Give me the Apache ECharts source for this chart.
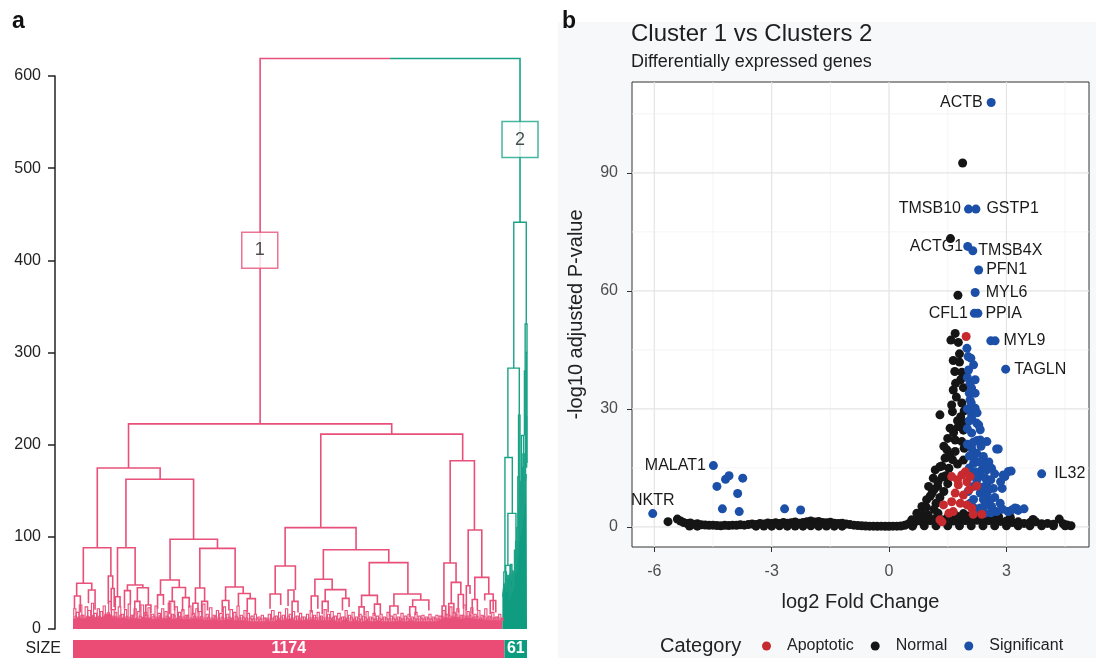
<!DOCTYPE html>
<html>
<head>
<meta charset="utf-8">
<title>Cluster dendrogram + volcano</title>
<script src="https://cdn.jsdelivr.net/npm/echarts@6/dist/echarts.min.js"></script>
<style>
  html, body { margin: 0; padding: 0; background: #fff; }
  #main { width: 1096px; height: 658px; }
</style>
</head>
<body>
<div id="main"></div>
<script>
var pink = '#e8507a', teal = '#1aa287';             // dendrogram line colours
var pinkBar = '#ea4c76', tealBar = '#0b9b7f';       // size bar colours
var redPt = '#c62a2f', blackPt = '#151515', bluePt = '#1b4fa8';

/* ---------- panel a : dendrogram (x = leaf index, y = height) ---------- */
var clusterSizes = [1174, 61];
var clusterBoxes = [[508, 411, '1'], [1216, 531, '2']];   // leaf, height, label

// [left x, right x, height, left child height, right child height]
var rootMerge = [509, 1216, 619, 222.6, 441.3];
var pinkMerges = [
  [151, 867, 222.6, 174.7, 211.4],
  [66, 237, 174.7, 88.2, 162.4],
  [28, 103, 88.2, 49.6, 57.5],
  [10, 51, 49.6, 35.8, 42.3],
  [4, 20, 35.8, 22, 18],
  [42, 60, 42.3, 28, 21],
  [96, 108, 57.5, 27, 44],
  [104, 112, 44, 20, 24],
  [144, 328, 162.4, 88.2, 97.3],
  [121, 169, 88.2, 35, 47.7],
  [115, 128, 35, 20, 24],
  [148, 190, 47.7, 41.6, 44.8],
  [140, 156, 41.6, 22, 27],
  [175, 205, 44.8, 30, 26],
  [168, 182, 30, 15, 19],
  [198, 212, 26, 14, 17],
  [264, 393, 97.3, 53.2, 87.5],
  [238, 289, 53.2, 37, 45],
  [230, 246, 37, 22, 26],
  [270, 306, 45, 30, 34],
  [262, 276, 30, 16, 20],
  [298, 316, 34, 19, 23],
  [345, 441, 87.5, 44.5, 45.6],
  [333, 358, 44.5, 28, 30],
  [326, 340, 28, 15, 18],
  [350, 366, 30, 16, 20],
  [415, 463, 45.6, 31, 38.5],
  [406, 424, 31, 18, 20],
  [450, 482, 38.5, 25, 33],
  [474, 496, 33, 18, 16],
  [674, 1060, 211.4, 110, 182.6],
  [577, 770, 110, 68.3, 86],
  [550, 605, 68.3, 38, 42.3],
  [536, 565, 38, 22, 26],
  [585, 601, 42.3, 25, 30],
  [596, 612, 30, 16, 18],
  [681, 859, 86, 53.9, 72],
  [658, 705, 53.9, 35.8, 42.7],
  [648, 666, 35.8, 18, 22],
  [686, 742, 42.7, 30, 33.2],
  [678, 694, 30, 16, 18],
  [733, 751, 33.2, 20, 24],
  [806, 911, 72, 36.5, 38],
  [785, 828, 36.5, 24, 27],
  [778, 792, 24, 13, 15],
  [820, 836, 27, 14, 16],
  [873, 946, 38, 25, 31.4],
  [862, 884, 25, 14, 16],
  [924, 968, 31.4, 24.2, 20],
  [916, 932, 24.2, 13, 15],
  [1026, 1092, 182.6, 71.6, 107.4],
  [1009, 1042, 71.6, 25, 50.6],
  [1004, 1014, 25, 12, 14],
  [1029, 1055, 50.6, 27.7, 37.4],
  [1022, 1036, 27.7, 14, 16],
  [1048, 1062, 37.4, 18, 22],
  [1075, 1112, 107.4, 47, 56],
  [1070, 1080, 47, 20, 38],
  [1093, 1131, 56, 32, 38],
  [1086, 1100, 32, 16, 20],
  [1120, 1143, 38, 31, 20],
  [1135, 1150, 31, 16, 18]
];
var tealMerges = [
  [1199, 1233, 441.3, 283, 331],
  [1183, 1214, 283, 186, 232],
  [1175, 1195, 186, 62, 125.5],
  [1172, 1179, 62, 35, 40],
  [1183, 1205, 125.5, 69, 85.6],
  [1177, 1189, 69, 45, 40],
  [1201, 1208, 85.6, 55, 62],
  [1186, 1192, 45, 30, 35],
  [1196, 1200, 60, 40, 45],
  [1212, 1216, 232, 165, 150],
  [1210, 1214, 165, 110, 95],
  [1215, 1219, 150, 120, 100],
  [1230, 1235, 331, 280, 300],
  [1228, 1232, 280, 210, 190],
  [1233, 1235, 300, 220, 180],
  [1220, 1226, 210, 150, 160],
  [1224, 1229, 190, 140, 155],
  [1218, 1222, 160, 120, 110],
  [1204, 1207, 95, 60, 70],
  [1207, 1211, 110, 75, 80],
  [1213, 1217, 130, 95, 105],
  [1221, 1224, 175, 130, 140],
  [1226, 1230, 165, 120, 135],
  [1231, 1234, 230, 160, 175],
  [1180, 1184, 58, 40, 45],
  [1190, 1194, 70, 45, 52]
];
// small merges just above the dense base: [left x, right x, height]
var pinkTwigs = [
  [2,8,22],[9,16,18],[17,24,26],[25,30,15],[33,40,24],[40,48,20],[50,56,28],[57,64,17],[66,72,22],[74,80,19],
  [82,88,25],[89,95,16],[97,104,30],[105,112,21],[114,119,18],[123,130,24],[131,138,16],[140,146,21],[150,156,27],[158,164,15],
  [166,172,22],[176,182,19],[185,192,26],[195,201,18],[204,210,23],[213,220,16],[223,229,25],[231,238,17],[241,247,22],[250,256,19],
  [259,266,28],[268,274,16],[277,284,24],[287,293,18],[296,302,21],[305,312,15],[315,321,25],[324,330,17],[334,340,22],[343,350,19],
  [353,359,27],[362,368,16],[371,378,23],[381,387,15],[390,396,20],[399,406,17],[409,415,24],[418,424,16],[427,434,21],[437,443,18],
  [446,452,25],[455,461,15],[465,471,20],[474,480,17],[484,490,14],[493,499,16],[503,509,13],[512,518,15],[522,528,12],[531,537,16],
  [540,547,20],[550,556,14],[559,565,18],[569,575,15],[578,584,22],[588,594,16],[597,603,19],[607,613,14],[616,622,17],[626,632,13],
  [635,641,16],[645,651,20],[654,660,15],[664,670,18],[673,679,14],[683,689,21],[692,698,16],[701,708,19],[711,717,14],[720,727,17],
  [730,736,13],[740,746,20],[749,755,15],[759,765,18],[768,774,13],[778,784,16],[787,793,14],[797,803,19],[806,812,13],[816,822,17],
  [825,831,14],[835,841,16],[844,850,13],[854,860,18],[863,869,14],[873,879,16],[882,888,13],[892,898,17],[901,907,14],[911,917,16],
  [920,926,13],[930,936,18],[939,945,14],[949,955,15],[958,964,13],[968,974,16],[977,983,13],[987,993,15],[996,1002,14],[1006,1012,20],
  [1015,1021,16],[1025,1031,24],[1034,1040,18],[1044,1050,22],[1053,1059,15],[1063,1069,26],[1072,1078,19],[1082,1088,23],[1091,1097,16],[1101,1107,20],
  [1110,1116,15],[1120,1126,22],[1129,1135,14],[1139,1145,18],[1148,1154,13],[1158,1164,16],[1166,1170,12]
];
// a lower, denser row of tiny merges
var pinkTinyTwigs = [
  [5,10,14],[13,18,13],[21,27,15],[29,35,12],[37,43,14],[45,51,13],[53,58,15],[61,67,13],[69,75,14],[77,83,12],
  [86,91,16],[93,99,18],[101,106,15],[109,115,14],[118,124,13],[127,133,15],[135,141,12],[144,149,14],[153,159,13],[162,168,15],
  [171,177,12],[180,186,14],[189,195,13],[198,204,15],[207,213,12],[217,223,14],[226,232,13],[235,241,15],[244,250,12],[253,259,14],
  [262,268,13],[272,278,15],[281,287,12],[290,296,14],[299,305,13],[309,315,15],[318,324,12],[328,334,14],[337,343,13],[347,353,14],
  [356,362,12],[366,372,13],[375,381,12],[385,391,14],[394,400,12],[403,409,13],[413,419,12],[422,428,13],[431,437,12],[441,447,14],
  [450,456,12],[460,466,13],[469,475,12],[479,485,12],[488,494,11],[498,504,12],[507,513,11],[517,523,12],[526,532,11],[536,542,12],
  [545,551,13],[555,561,12],[564,570,13],[574,580,12],[583,589,14],[593,599,12],[602,608,13],[612,618,12],[621,627,13],[631,637,11],
  [640,646,12],[650,656,13],[659,665,12],[669,675,13],[678,684,12],[688,694,13],[697,703,12],[706,712,13],[716,722,11],[725,731,12],
  [735,741,13],[744,750,12],[754,760,13],[763,769,11],[773,779,12],[782,788,11],[792,798,13],[801,807,11],[811,817,12],[820,826,11],
  [830,836,12],[839,845,11],[849,855,12],[858,864,11],[868,874,12],[877,883,11],[887,893,12],[896,902,11],[906,912,12],[915,921,11],
  [925,931,12],[934,940,11],[944,950,12],[953,959,11],[963,969,12],[972,978,11],[982,988,12],[991,997,11],[1001,1007,14],[1011,1017,13],
  [1020,1026,15],[1030,1036,14],[1039,1045,16],[1049,1055,13],[1058,1064,15],[1068,1074,14],[1077,1083,15],[1087,1093,13],[1096,1102,14],[1106,1112,12],
  [1115,1121,14],[1125,1131,12],[1134,1140,13],[1144,1150,12],[1153,1159,13],[1162,1167,11]
];
// top of the dense base of leaves: [leaf, height]
var pinkGrass = [
  [0,10],[15,12],[30,10],[45,13],[60,11],[75,12],[90,14],[100,16],[110,12],[125,11],[140,12],[155,10],[170,11],[185,10],
  [200,12],[215,10],[230,11],[245,10],[260,12],[275,10],[290,11],[305,10],[320,10],[335,11],[350,10],[365,9],[380,10],
  [395,9],[410,9],[425,10],[440,9],[455,9],[470,9],[485,8],[500,8],[515,8],[530,9],[545,8],[560,10],[575,9],[590,11],
  [605,9],[620,9],[635,9],[650,10],[665,9],[680,9],[695,9],[710,9],[725,8],[740,10],[755,8],[770,9],[785,8],[800,9],
  [815,8],[830,9],[845,8],[860,8],[875,8],[890,9],[905,8],[920,9],[935,8],[950,8],[965,8],[980,8],[995,9],[1010,12],
  [1025,11],[1040,13],[1055,10],[1070,12],[1085,11],[1100,10],[1115,10],[1130,9],[1145,9],[1160,9],[1168,8]
];
var tealGrass = [
  [1168,35],[1172,50],[1176,45],[1180,58],[1184,52],[1188,60],[1192,56],[1196,64],[1200,60],[1204,68],[1207,75],[1210,90],
  [1213,120],[1216,148],[1219,135],[1222,158],[1225,140],[1228,150],[1231,162],[1234,168],[1235,168]
];

/* ---------- panel b : volcano plot ---------- */
var xMajor = [-6, -3, 0, 3], xMinor = [-4.5, -1.5, 1.5, 4.5];
var yMajor = [0, 30, 60, 90], yMinor = [15, 45, 75, 105];

// [name, log2FC, -log10 padj, label side, label distance]
var geneLabels = [
  ['ACTB', 2.61, 107.9, 'left', 4],
  ['TMSB10', 2.03, 80.8, 'left', 3],
  ['GSTP1', 2.22, 80.8, 'right', 6],
  ['ACTG1', 2.01, 71.3, 'left', 0],
  ['TMSB4X', 2.14, 70.2, 'right', 1],
  ['PFN1', 2.29, 65.3, 'right', 3],
  ['MYL6', 2.20, 59.6, 'right', 6],
  ['CFL1', 2.18, 54.3, 'left', 2],
  ['PPIA', 2.27, 54.3, 'right', 3],
  ['MYL9', 2.71, 47.3, 'right', 4],
  ['TAGLN', 2.98, 40.1, 'right', 4],
  ['IL32', 3.90, 13.5, 'right', 8],
  ['MALAT1', -4.49, 15.6, 'left', 3],
  ['NKTR', -6.04, 3.4, 'top', 0]
];
var significantPts = [
  [2.60,47.3],
  [-4.40,10.3],[-4.18,12.1],[-4.09,13.0],[-3.74,12.4],[-3.87,8.5],[-4.26,4.6],[-3.83,3.9],[-2.67,4.6],[-2.26,4.3],
  [1.99,45.4],[2.09,42.9],[2.16,41.2],[2.03,39.9],[2.11,35.3],[2.20,34.0],[2.07,32.3],[2.20,30.2],[2.11,28.5],[2.24,26.4],
  [2.33,24.7],[2.50,21.7],[2.75,19.8],[2.33,22.1],[2.11,23.9],[2.24,18.7],[2.41,17.9],[2.16,16.2],[2.37,14.5],[2.62,14.9],
  [2.92,13.2],[3.05,14.1],[2.24,11.9],[2.50,11.1],[2.67,9.8],[2.33,8.6],[2.58,6.9],[2.84,6.0],[2.33,4.8],[2.75,3.9],
  [3.05,3.9],[3.22,4.8],[2.07,6.0],[2.16,10.3],[2.07,36.5],[2.20,37.4],[2.11,20.0],[2.02,43.3],[2.16,29.8],[2.11,27.6],
  [2.29,25.9],[2.16,17.9],[2.50,14.5],[2.29,10.3],[2.50,8.6],[2.41,7.0],[2.62,5.2],[2.29,4.3],[2.16,7.0],[2.02,9.0],
  [2.96,12.8],[3.12,14.2],[2.79,19.8],[2.89,9.8],[3.26,4.7],[3.04,3.9],[2.05,15.0],[2.10,13.0],[2.30,13.0],[2.45,12.5],
  [2.60,12.0],[2.15,5.0],[2.45,5.5],[2.60,3.6],[2.90,4.5],[2.35,20.5],[2.25,22.0],[2.40,16.0],[2.55,16.5],[2.70,13.5],
  [2.05,18.0],[2.00,21.0],[2.00,25.0],[2.05,27.0],[2.00,30.0],[2.05,34.0],[2.00,38.0],[2.10,31.5],[2.85,11.5],[3.30,4.2],
  [3.45,4.6],[3.15,4.4],[2.40,10.0],[2.55,9.5],[2.70,7.5],[2.45,3.5],[2.20,14.0],[2.30,16.5],[2.15,21.5],[2.25,29.0]
];
var apoptoticPts = [
  [1.97,48.4],[1.60,12.8],[1.86,13.2],[2.07,12.8],[1.77,10.7],[1.99,11.5],[2.24,10.4],[1.69,8.6],[1.90,8.1],[1.82,6.0],
  [1.60,6.4],[1.39,5.6],[1.99,5.6],[2.11,4.8],[1.64,3.9],[1.53,3.5],[2.15,3.2],[2.37,3.2],[1.30,1.8],[1.35,1.3],
  [1.95,14.0],[2.05,9.5],[1.75,12.0]
];
var normalPts = [
  // left tail and flat band
  [-5.65,1.35],[-5.41,2.0],[-5.33,1.5],[-5.25,1.1],[-5.17,0.9],[-5.08,1.0],[-5.0,0.7],[-4.9,0.8],[-4.8,0.55],[-4.7,0.5],
  [-4.6,0.4],[-4.5,0.45],[-4.4,0.35],[-4.3,0.3],[-4.2,0.4],[-4.1,0.35],[-4.0,0.45],[-3.9,0.4],[-3.8,0.55],[-3.7,0.45],
  [-3.6,0.6],[-3.5,0.75],[-3.4,0.65],[-3.3,0.9],[-3.2,0.75],[-3.1,1.0],[-3.0,0.85],[-2.9,1.05],[-2.8,0.9],[-2.7,1.15],
  [-2.6,0.95],[-2.5,1.05],[-2.4,1.25],[-2.3,0.95],[-2.2,1.15],[-2.1,1.35],[-2.0,1.5],[-1.9,1.25],[-1.8,1.4],[-1.7,1.15],
  [-1.6,1.05],[-1.5,1.2],[-1.4,0.95],[-1.3,0.85],[-1.2,0.95],[-1.1,0.75],[-1.0,0.6],[-0.9,0.45],[-0.8,0.35],[-0.7,0.3],
  [-0.6,0.25],[-0.5,0.2],[-0.4,0.2],[-0.3,0.15],[-0.2,0.2],[-0.1,0.15],[0.0,0.15],[0.1,0.2],[0.2,0.2],[0.3,0.25],[0.4,0.4],
  [-5.1,0.25],[-4.9,0.2],[-3.4,0.2],[-3.2,0.25],[-3.0,0.2],[-2.8,0.3],[-2.6,0.2],[-2.4,0.25],[-2.2,0.2],[-2.0,0.3],
  [-1.8,0.2],[-1.6,0.25],[-1.4,0.2],[-1.2,0.2],
  // base under the peak and right tail
  [0.5,0.8],[0.65,1.2],[0.8,1.5],[0.9,2.0],[1.05,1.6],[1.2,2.2],[1.35,1.8],[1.5,2.4],[1.65,1.5],[1.8,2.0],
  [1.95,1.6],[2.1,2.1],[2.25,1.7],[2.4,2.0],[2.55,1.6],[2.7,1.8],[2.85,1.4],[3.0,1.5],[3.15,1.1],[3.3,1.3],
  [3.45,0.9],[3.6,1.1],[3.68,1.9],[3.75,1.3],[3.9,0.8],[4.05,0.9],[4.2,0.7],[4.35,2.0],[4.45,0.8],[4.55,0.5],[4.65,0.3],
  [0.6,0.2],[0.9,0.3],[1.2,0.3],[1.5,0.3],[1.8,0.3],[2.1,0.3],[2.4,0.3],[2.7,0.3],[3.0,0.3],[3.3,0.3],
  [3.6,0.3],[3.9,0.3],[4.2,0.3],[4.5,0.3],
  [2.5,3.0],[2.8,2.6],[2.2,3.2],[1.9,3.4],[2.0,2.8],[3.1,2.4],[2.35,2.6],[1.7,2.9],
  // the peak
  [1.88,92.5],[1.57,73.3],[1.76,58.9],
  [1.69,49.2],[1.58,47.5],[1.77,46.9],[1.64,42.3],[1.80,41.9],[1.86,39.3],[1.83,37.4],[1.64,34.8],[1.90,35.4],[1.60,31.0],
  [1.86,31.5],[1.30,28.5],[1.62,29.3],[1.83,28.0],[1.56,25.1],[1.77,25.5],[1.90,24.6],[1.69,22.1],[1.86,21.7],[1.48,19.6],
  [1.69,19.2],[1.43,17.5],[1.62,17.1],[1.30,15.3],[1.18,14.5],[1.53,14.9],[1.13,12.4],[1.36,12.7],[1.01,10.3],[1.24,10.3],
  [1.10,8.6],[0.96,6.9],[0.84,5.2],[1.20,6.0],[0.71,3.5],[0.58,1.8],
  [1.72,33.0],[1.75,27.0],[1.50,22.5],[1.65,24.0],[1.40,20.5],[1.55,18.0],[1.75,16.0],[1.35,15.5],[1.45,13.0],[1.25,11.5],
  [1.50,11.0],[1.15,9.5],[1.40,9.0],[1.05,7.8],[1.30,7.5],[0.95,5.0],[1.15,4.5],[0.85,3.2],[1.00,3.0],[0.75,2.0],
  [1.25,3.5],[1.70,36.5],[1.80,44.0],[1.68,39.5],[1.92,29.5],[1.95,26.5],[1.92,20.0],[1.90,17.0]
];

/* U shaped link of the dendrogram */
function renderMerge(params, api) {
  var xl = api.value(0), xr = api.value(1), h = api.value(2);
  var a = api.coord([xl, api.value(3)]), b = api.coord([xl, h]);
  var m = api.coord([(xl + xr) / 2, h]);
  var d = api.coord([xr, h]), e = api.coord([xr, api.value(4)]);
  var c = api.value(5), w = api.value(6);
  if (c === 2) { // top link: half pink, half teal
    return {type: 'group', children: [
      {type: 'polyline', shape: {points: [a, b, m]}, style: {stroke: pink, lineWidth: w, fill: null}},
      {type: 'polyline', shape: {points: [m, d, e]}, style: {stroke: teal, lineWidth: w, fill: null}}
    ]};
  }
  return {type: 'polyline', shape: {points: [a, b, d, e]},
          style: {stroke: c ? teal : pink, lineWidth: w, fill: null}};
}

/* background grid lines of the volcano panel */
function renderGridLine(params, api) {
  var cs = params.coordSys;
  var v = api.value(0), dir = api.value(1), major = api.value(2);
  var st = {stroke: major ? '#e4e4e4' : '#efefef', lineWidth: major ? 1.2 : 0.7};
  if (dir === 0) {
    var px = api.coord([v, 0])[0];
    return {type: 'line', shape: {x1: px, y1: cs.y, x2: px, y2: cs.y + cs.height}, style: st};
  }
  var py = api.coord([0, v])[1];
  return {type: 'line', shape: {x1: cs.x, y1: py, x2: cs.x + cs.width, y2: py}, style: st};
}

var mergeData = [rootMerge.concat([2, 1.6])];
pinkMerges.forEach(function (m) { mergeData.push(m.concat([0, 1.6])); });
pinkTwigs.forEach(function (t) { mergeData.push([t[0], t[1], t[2], 9, 9, 0, 1.1]); });
pinkTinyTwigs.forEach(function (t) { mergeData.push([t[0], t[1], t[2], 8, 8, 0, 1]); });
tealMerges.forEach(function (m) { mergeData.push(m.concat([1, 1.4])); });

var gridLineData = [];
xMajor.forEach(function (v) { gridLineData.push([v, 0, 1]); });
xMinor.forEach(function (v) { gridLineData.push([v, 0, 0]); });
yMajor.forEach(function (v) { gridLineData.push([v, 1, 1]); });
yMinor.forEach(function (v) { gridLineData.push([v, 1, 0]); });

var sigData = significantPts.slice();
geneLabels.forEach(function (g) {
  sigData.push({value: [g[1], g[2]],
    label: {show: true, position: g[3], distance: g[4], formatter: g[0]}});
});

var boxData = clusterBoxes.map(function (b, i) {
  return {value: [b[0], b[1]], name: b[2],
    itemStyle: {color: '#fff', borderColor: i ? teal : pink, borderWidth: 1.5}};
});

var chart = echarts.init(document.getElementById('main'), null, {renderer: 'canvas'});
var option = {
  backgroundColor: '#fff',
  animation: false,
  textStyle: {fontFamily: 'Liberation Sans, Arial, sans-serif'},
  title: {
    text: 'Cluster 1 vs Clusters 2',
    subtext: 'Differentially expressed genes',
    left: 631, top: 22, padding: 0, itemGap: 7,
    textStyle: {fontSize: 24, fontWeight: 'normal', color: '#1e1e1e'},
    subtextStyle: {fontSize: 18, color: '#1e1e1e'}
  },
  graphic: [
    {type: 'rect', z: -10, shape: {x: 558, y: 22, width: 538, height: 636}, style: {fill: '#f7f8fa'}},
    {type: 'text', x: 12, y: 22, style: {text: 'a', font: 'bold 23px Liberation Sans, Arial', fill: '#111', verticalAlign: 'middle'}},
    {type: 'text', x: 562, y: 22, style: {text: 'b', font: 'bold 23px Liberation Sans, Arial', fill: '#111', verticalAlign: 'middle'}},
    {type: 'text', x: 660, y: 646, style: {text: 'Category', font: '20px Liberation Sans, Arial', fill: '#222', verticalAlign: 'middle'}}
  ],
  legend: {
    data: ['Apoptotic', 'Normal', 'Significant'],
    left: 762, top: 638, padding: 0, itemGap: 17,
    icon: 'circle', itemWidth: 9, itemHeight: 9,
    textStyle: {fontSize: 16, color: '#222', padding: [0, 0, 0, 11]}
  },
  grid: [
    {left: 55, top: 76, width: 472, height: 553},
    {left: 73, top: 640, width: 454, height: 22},
    {left: 632, top: 82, width: 457, height: 465, show: true, backgroundColor: '#fff',
     borderColor: '#333', borderWidth: 1}
  ],
  xAxis: [
    {gridIndex: 0, type: 'value', min: -49, max: 1235, show: false},
    {gridIndex: 1, type: 'value', min: 0, max: 1235, show: false},
    {gridIndex: 2, type: 'value', min: -6.57, max: 5.11,
     name: 'log2 Fold Change', nameLocation: 'middle', nameGap: 45,
     nameTextStyle: {fontSize: 20, color: '#222'},
     axisLine: {show: false, onZero: false}, splitLine: {show: false},
     axisTick: {show: true, length: 5, customValues: xMajor, lineStyle: {color: '#333'}},
     axisLabel: {fontSize: 16, color: '#4d4d4d', margin: 17, customValues: xMajor}}
  ],
  yAxis: [
    {gridIndex: 0, type: 'value', min: 0, max: 600, interval: 100,
     axisLine: {show: true, onZero: false, lineStyle: {color: '#222', width: 1.5}},
     axisTick: {show: true, length: 7, lineStyle: {color: '#222', width: 1.5}},
     axisLabel: {fontSize: 16, color: '#222', margin: 14},
     splitLine: {show: false}},
    {gridIndex: 1, type: 'category', data: ['SIZE'],
     axisLine: {show: false}, axisTick: {show: false},
     axisLabel: {fontSize: 16, color: '#222', margin: 12}},
    {gridIndex: 2, type: 'value', min: -5.1, max: 113.1,
     name: '-log10 adjusted P-value', nameLocation: 'middle', nameGap: 46,
     nameTextStyle: {fontSize: 20, color: '#222'},
     axisLine: {show: false, onZero: false}, splitLine: {show: false},
     axisTick: {show: true, length: 5, customValues: yMajor, lineStyle: {color: '#333'}},
     axisLabel: {fontSize: 16, color: '#4d4d4d', margin: 14, customValues: yMajor}}
  ],
  series: [
    // dendrogram
    {type: 'line', xAxisIndex: 0, yAxisIndex: 0, data: pinkGrass, showSymbol: false, silent: true,
     lineStyle: {color: pink, width: 1}, areaStyle: {color: pink, opacity: 1}, z: 1},
    {type: 'line', xAxisIndex: 0, yAxisIndex: 0, data: tealGrass, showSymbol: false, silent: true,
     lineStyle: {color: teal, width: 1}, areaStyle: {color: '#0f9c80', opacity: 1}, z: 1},
    {type: 'custom', xAxisIndex: 0, yAxisIndex: 0, renderItem: renderMerge, data: mergeData,
     clip: false, silent: true, z: 2},
    {type: 'scatter', xAxisIndex: 0, yAxisIndex: 0, data: boxData, symbol: 'rect', symbolSize: 36,
     silent: true, z: 5,
     label: {show: true, position: 'inside', formatter: '{b}', fontSize: 18, color: '#222'}},
    // size bar
    {type: 'bar', name: 'size1', xAxisIndex: 1, yAxisIndex: 1, stack: 'size', data: [clusterSizes[0]],
     barWidth: '100%', itemStyle: {color: pinkBar}, silent: true,
     label: {show: true, position: 'inside', color: '#fff', fontWeight: 'bold', fontSize: 16}},
    {type: 'bar', name: 'size2', xAxisIndex: 1, yAxisIndex: 1, stack: 'size', data: [clusterSizes[1]],
     barWidth: '100%', itemStyle: {color: tealBar}, silent: true,
     label: {show: true, position: 'inside', color: '#fff', fontWeight: 'bold', fontSize: 16}},
    // volcano
    {type: 'custom', xAxisIndex: 2, yAxisIndex: 2, renderItem: renderGridLine, data: gridLineData,
     silent: true, z: 0},
    {type: 'scatter', name: 'Normal', xAxisIndex: 2, yAxisIndex: 2, data: normalPts,
     symbolSize: 9, itemStyle: {color: blackPt, opacity: 1}, z: 3},
    {type: 'scatter', name: 'Significant', xAxisIndex: 2, yAxisIndex: 2, data: sigData,
     symbolSize: 9, itemStyle: {color: bluePt, opacity: 1}, z: 4,
     label: {fontSize: 16, color: '#1a1a1a'}},
    {type: 'scatter', name: 'Apoptotic', xAxisIndex: 2, yAxisIndex: 2, data: apoptoticPts,
     symbolSize: 9, itemStyle: {color: redPt, opacity: 1}, z: 5}
  ]
};
chart.setOption(option);
</script>
</body>
</html>
